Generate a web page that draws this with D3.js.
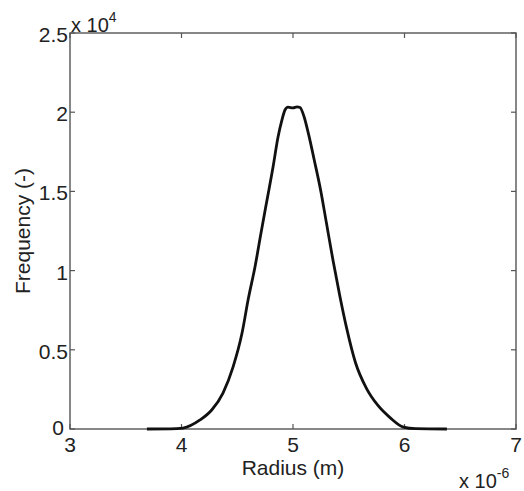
<!DOCTYPE html>
<html><head><meta charset="utf-8">
<script src="https://cdn.jsdelivr.net/npm/d3@7"></script>
<style>body{margin:0;background:#fff}text{font-family:"Liberation Sans",Arial,sans-serif}</style>
</head><body>
<svg id="c" width="524" height="491"></svg>
<script>
// Radius in units of 1e-6 m, frequency in counts
const radius = [3.69, 3.90, 4.013, 4.166, 4.271, 4.372, 4.462, 4.543, 4.60, 4.659, 4.713, 4.767, 4.821, 4.865, 4.901, 4.928, 4.955, 5.0, 5.036, 5.063, 5.10, 5.14, 5.19, 5.25, 5.30, 5.36, 5.42, 5.48, 5.56, 5.66, 5.76, 5.87, 5.99, 6.10, 6.38];
const frequency = [0, 10, 60, 570, 1200, 2270, 3910, 6060, 8250, 10230, 12370, 14460, 16540, 18400, 19510, 20140, 20320, 20270, 20340, 20300, 19700, 18600, 17000, 15000, 13000, 10600, 8400, 6400, 4200, 2550, 1500, 720, 120, 20, 0];
const xTicks = [3, 4, 5, 6, 7];
const yTicks = [0, 0.5, 1, 1.5, 2, 2.5];
const xTickLabels = ["3", "4", "5", "6", "7"];
const yTickLabels = ["0", "0.5", "1", "1.5", "2", "2.5"];

const svg = d3.select("#c");
const L = 70, R = 516, T = 33, B = 429;
const x = d3.scaleLinear().domain([3, 7]).range([L, R]);
const y = d3.scaleLinear().domain([0, 2.5]).range([B, T]);
const axisColor = "#555";
const textColor = "#222";
const fs = 21;

// frame
svg.append("rect").attr("x", L).attr("y", T).attr("width", R - L).attr("height", B - T)
  .attr("fill", "none").attr("stroke", axisColor).attr("stroke-width", 1.4);

// ticks
const tk = 5;
xTicks.forEach((t, i) => {
  svg.append("line").attr("x1", x(t)).attr("x2", x(t)).attr("y1", B).attr("y2", B - tk).attr("stroke", axisColor).attr("stroke-width", 1.2);
  svg.append("line").attr("x1", x(t)).attr("x2", x(t)).attr("y1", T).attr("y2", T + tk).attr("stroke", axisColor).attr("stroke-width", 1.2);
  svg.append("text").attr("x", x(t)).attr("y", B + 23).attr("text-anchor", "middle")
    .attr("font-size", fs).attr("fill", textColor).text(xTickLabels[i]);
});
yTicks.forEach((t, i) => {
  svg.append("line").attr("x1", L).attr("x2", L + tk).attr("y1", y(t)).attr("y2", y(t)).attr("stroke", axisColor).attr("stroke-width", 1.2);
  svg.append("line").attr("x1", R).attr("x2", R - tk).attr("y1", y(t)).attr("y2", y(t)).attr("stroke", axisColor).attr("stroke-width", 1.2);
  svg.append("text").attr("x", t === 0 ? L - 6 : L - 2).attr("y", y(t) + (t === 0 ? 6 : 9)).attr("text-anchor", "end")
    .attr("font-size", fs).attr("fill", textColor).text(yTickLabels[i]);
});

// exponent labels
const e4 = svg.append("text").attr("x", L + 1).attr("y", T - 1).attr("font-size", 20).attr("fill", textColor);
e4.append("tspan").text("x 10");
e4.append("tspan").attr("dy", -10).attr("font-size", 14).text("4");
const e6 = svg.append("text").attr("x", 459).attr("y", 488).attr("font-size", 20).attr("fill", textColor);
e6.append("tspan").text("x 10");
e6.append("tspan").attr("dy", -10).attr("font-size", 14).text("-6");

// axis labels
svg.append("text").attr("x", (L + R) / 2).attr("y", 475).attr("text-anchor", "middle")
  .attr("font-size", fs).attr("fill", textColor).text("Radius (m)");
svg.append("text").attr("transform", `translate(30,${(T + B) / 2}) rotate(-90)`).attr("text-anchor", "middle")
  .attr("font-size", fs).attr("fill", textColor).text("Frequency (-)");

// curve
const pts = radius.map((r, i) => [r, frequency[i] / 1e4]);
svg.append("path").datum(pts)
  .attr("d", d3.line().x(d => x(d[0])).y(d => y(d[1])).curve(d3.curveMonotoneX))
  .attr("fill", "none").attr("stroke", "#111").attr("stroke-width", 2.8).attr("stroke-linejoin", "round");
</script>
</body></html>
